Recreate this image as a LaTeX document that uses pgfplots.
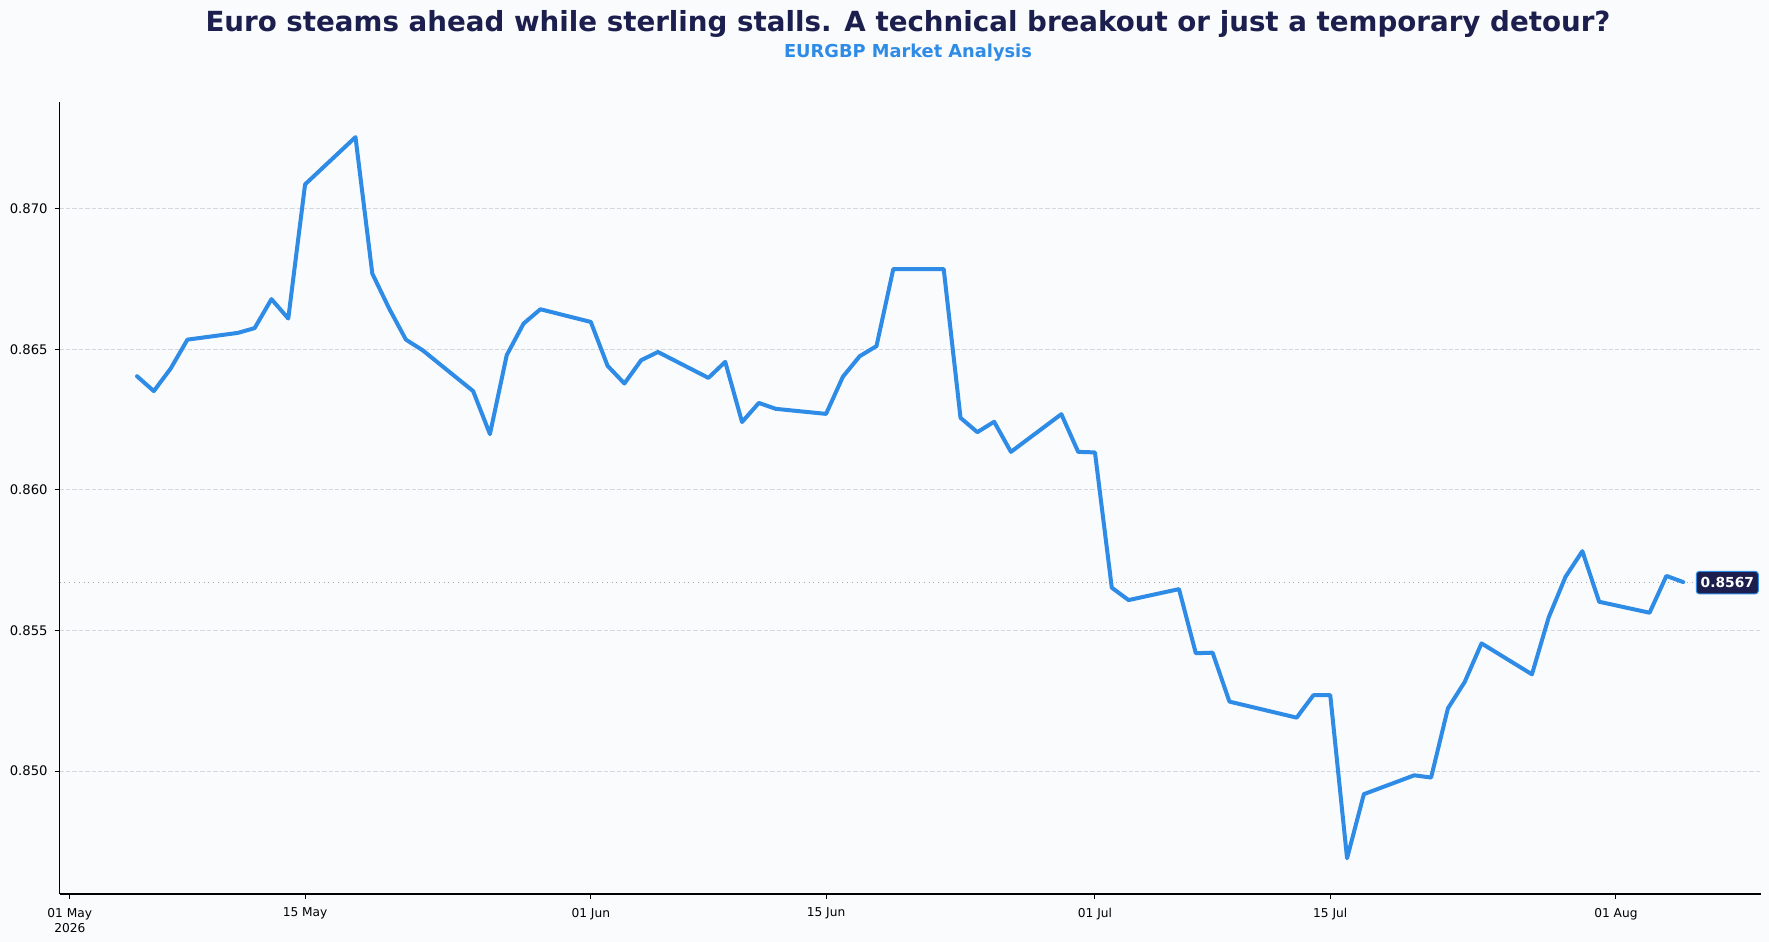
\documentclass[border=0pt]{standalone}
\usepackage{fontspec}
\setmainfont{DejaVu Sans}
\usepackage{pgfplots}
\pgfplotsset{compat=1.18}
\definecolor{bg}{RGB}{249,251,253}
\definecolor{lineblue}{RGB}{46,139,230}
\definecolor{navy}{RGB}{28,31,78}
\definecolor{gridc}{RGB}{212,216,221}
\begin{document}
\begin{tikzpicture}
\useasboundingbox (0,0) rectangle (884.5pt,471pt);
\fill[bg] (0,0) rectangle (884.5pt,471pt);
\node[anchor=base, text=navy, font=\fontsize{13.85}{17}\selectfont\bfseries, inner sep=0pt] at (454pt,455pt) {Euro steams ahead while sterling stalls. A technical breakout or just a temporary detour?};
\node[anchor=base, text=lineblue, font=\fontsize{8.9}{11}\selectfont\bfseries, inner sep=0pt] at (454pt,442pt) {EURGBP Market Analysis};
\begin{axis}[
  at={(29.85pt,24pt)}, anchor=south west,
  scale only axis, width=850.4pt, height=396.15pt,
  xmin=-0.6, xmax=100.6, ymin=0.84563, ymax=0.87380,
  axis lines*=left,
  axis line style={-, line width=0.55pt, black},
  clip=false,
  tick align=outside, major tick length=2.5pt,
  tick style={line width=0.5pt, black},
  xtick={0,14,31,45,61,75,92},
  xticklabels={{01 May\\2026},{15 May},{01 Jun},{15 Jun},{01 Jul},{15 Jul},{01 Aug}},
  xticklabel style={align=center, font=\fontsize{6.1}{7.5}\selectfont, yshift=-1pt},
  ytick={0.850,0.855,0.860,0.865,0.870},
  scaled y ticks=false,
  yticklabel style={font=\fontsize{6.6}{8}\selectfont, /pgf/number format/.cd, fixed, fixed zerofill, precision=3, assume math mode=true},
  ymajorgrids,
  grid style={gridc, line width=0.4pt, dash pattern=on 2.2pt off 1pt},
  axis background/.style={fill=bg},
]
\addplot[gray!70, line width=0.4pt, dotted] coordinates {(-0.6,0.8567) (96.8,0.8567)};
\addplot[lineblue, line width=2pt, line join=round, line cap=round] coordinates {
(4,0.86404) (5,0.86351) (6,0.86431) (7,0.86534) (10,0.86558) (11,0.86575) (12,0.86678) (13,0.86609) (14,0.87086)
(17,0.87254) (18,0.86769) (19,0.86645) (20,0.86534) (21,0.86496) (24,0.86351) (25,0.86198) (26,0.86479) (27,0.86591) (28,0.86642)
(31,0.86597) (32,0.86441) (33,0.86378) (34,0.86461) (35,0.86490) (38,0.86398) (39,0.86455) (40,0.86241) (41,0.86309) (42,0.86288)
(45,0.86270) (46,0.86402) (47,0.86475) (48,0.86511) (49,0.86785) (52,0.86785) (53,0.86256) (54,0.86205) (55,0.86242) (56,0.86135)
(59,0.86269) (60,0.86135) (61,0.86133) (62,0.85652) (63,0.85608) (66,0.85647) (67,0.85419) (68,0.85421) (69,0.85247)
(73,0.85190) (74,0.85270) (75,0.85270) (76,0.84690) (77,0.84918) (80,0.84985) (81,0.84977) (82,0.85223) (83,0.85317) (84,0.85454)
(87,0.85344) (88,0.85547) (89,0.85691) (90,0.85782) (91,0.85602) (94,0.85563) (95,0.85694) (96,0.85672)
};
\node[anchor=west, fill=navy, draw=lineblue, line width=0.5pt, rounded corners=1.5pt, text=white, font=\fontsize{6.9}{8}\selectfont\bfseries, inner xsep=2.2pt, inner ysep=3pt] at (axis cs:96.75,0.8567) {0.8567};
\end{axis}
\end{tikzpicture}
\end{document}
